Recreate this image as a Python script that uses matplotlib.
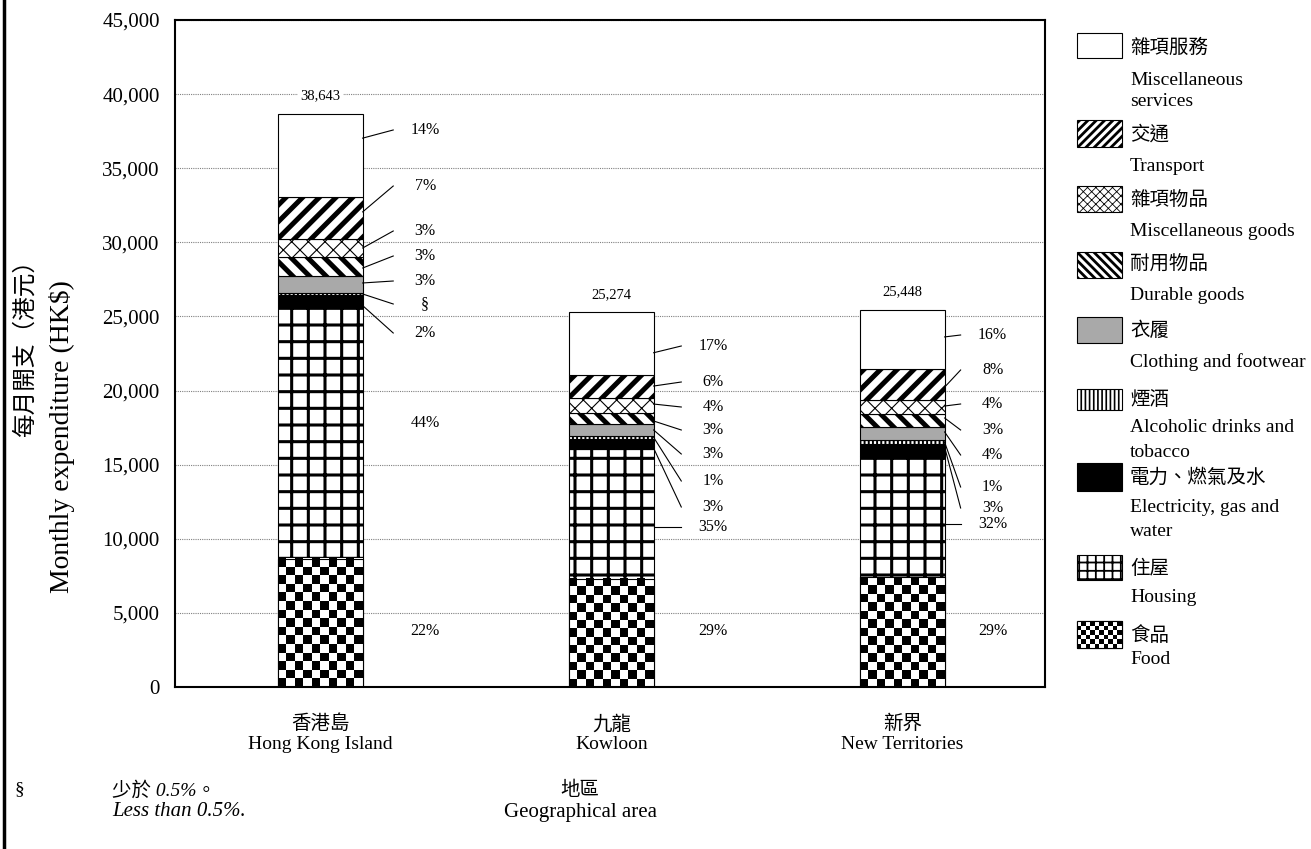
import matplotlib.pyplot as plt
import numpy as np
from matplotlib.patches import Rectangle

plt.rcParams['font.family'] = ['Liberation Serif', 'Noto Sans CJK TC']

areas_cn = ['香港島', '九龍', '新界']
areas_en = ['Hong Kong Island', 'Kowloon', 'New Territories']

# monthly household expenditure by item (HK$), one value per area
food = [8650, 7300, 7400]
housing = [17000, 8740, 8190]
electricity = [800, 700, 800]
alcohol = [130, 200, 250]
clothing = [1150, 800, 900]
durable = [1250, 760, 870]
misc_goods = [1250, 1000, 960]
transport = [2850, 1520, 2100]
misc_services = [5563, 4254, 3978]

# stacking order, bottom to top
series = [food, housing, electricity, alcohol, clothing, durable,
          misc_goods, transport, misc_services]
names_cn = ['食品', '住屋', '電力、燃氣及水', '煙酒', '衣履', '耐用物品',
            '雜項物品', '交通', '雜項服務']
names_en = [['Food'], ['Housing'], ['Electricity, gas and', 'water'],
            ['Alcoholic drinks and', 'tobacco'], ['Clothing and footwear'],
            ['Durable goods'], ['Miscellaneous goods'], ['Transport'],
            ['Miscellaneous', 'services']]

# fill styles: (facecolor, hatch in bars, hatch width, hatch in key, key hatch width)
styles = [
    ('white', None, 0, None, 0),          # checkerboard drawn separately
    ('white', '+', 2.2, '++', 1.3),
    ('black', None, 0, None, 0),
    ('white', '||||', 1.4, '||||', 1.2),
    ('#a9a9a9', None, 0, None, 0),
    ('white', '\\\\', 3.6, '\\\\\\\\', 2.0),
    ('white', 'xx', 0.8, 'xxxx', 0.6),
    ('white', '//', 3.6, '////', 2.0),
    ('white', None, 0, None, 0),
]

# where the percentage labels sit (HK$ height), bottom to top per area
label_y = [
    [3778, 17811, 23883, 25840, 27391, 29078, 30765, 33800, 37580],
    [3778, 10795, 12144, 13898, 15720, 17339, 18890, 20577, 23006],
    [3778, 10997, 12077, 13493, 15652, 17339, 19093, 21387, 23748],
]
# leader line start, as a fraction of segment height; None = no line, 'h' = level line
lead_frac = [
    [None, None, 0.1, 0.5, 0.59, 0.43, 0.51, 0.64, 0.71],
    [None, 'h', 0.1, 0.5, 0.5, 0.27, 0.59, 0.53, 0.36],
    [None, 'h', 0.75, 0.5, 0.63, 0.7, 0.57, 0.41, 0.54],
]
label_dx = [0.36, 0.35, 0.31]

W, H = 1311, 849
fig = plt.figure(figsize=(W / 100, H / 100), dpi=100)

# pixel-space overlay for key, titles and notes
ov = fig.add_axes([0, 0, 1, 1], zorder=0)
ov.set_xlim(0, W)
ov.set_ylim(H, 0)
ov.axis('off')

ax = fig.add_axes([175 / W, (H - 687) / H, 870 / W, 667 / H], zorder=1)
ax.set_xlim(-0.5, 2.49)
ax.set_ylim(0, 45000)


def checker(axis, x0, x1, y0, y1, cell_px, z):
    p0 = axis.transData.transform((x0, y0))
    p1 = axis.transData.transform((x1, y1))
    nc = max(1, int(round(abs(p1[0] - p0[0]) / cell_px)))
    nr = max(1, int(round(abs(p1[1] - p0[1]) / cell_px)))
    grid = np.add.outer(np.arange(nr), np.arange(nc)) % 2
    axis.imshow(grid, cmap='gray', vmin=0, vmax=1, extent=(x0, x1, y0, y1),
                origin='lower', interpolation='nearest', aspect='auto', zorder=z)


bar_w = 0.29
x = np.arange(3)
bottom = np.zeros(3)
bars = []
for k, vals in enumerate(series):
    fc, hatch, hlw, _, _ = styles[k]
    with plt.rc_context({'hatch.linewidth': max(hlw, 0.1)}):
        bc = ax.bar(x, vals, bar_w, bottom=bottom, color=fc, edgecolor='black',
                    linewidth=0.8, hatch=hatch, zorder=2)
    for p in bc:
        if hatch and hasattr(p, 'set_hatch_linewidth'):
            p.set_hatch_linewidth(hlw)
    if k == 0:
        for i in range(3):
            checker(ax, x[i] - bar_w / 2, x[i] + bar_w / 2, bottom[i],
                    bottom[i] + vals[i], 8.4, 2.1)
        ax.bar(x, vals, bar_w, bottom=bottom, fill=False, edgecolor='black',
               linewidth=0.8, zorder=2.2)
    bars.append(bottom.copy())
    bottom += np.array(vals)

totals = bottom

# percentage labels and leader lines
for i in range(3):
    for k, vals in enumerate(series):
        pct = vals[i] / totals[i] * 100
        txt = '§' if pct < 0.5 else f'{pct:.0f}%'
        lx = x[i] + label_dx[i]
        ly = label_y[i][k]
        ax.text(lx, ly, txt, ha='center', va='center', fontsize=11.5, zorder=5)
        f = lead_frac[i][k]
        if f is None:
            continue
        y0 = ly if f == 'h' else bars[k][i] + f * vals[i]
        ax.plot([x[i] + bar_w / 2, lx - 0.11], [y0, ly], color='black',
                lw=0.8, zorder=5)
    ax.annotate(f'{int(totals[i]):,}', (x[i], totals[i]), xytext=(0, 13),
                textcoords='offset points', ha='center', va='center',
                fontsize=10.5, zorder=5,
                bbox=dict(facecolor='white', edgecolor='none', pad=1.5))

ax.set_yticks(np.arange(0, 45001, 5000))
ax.set_yticklabels([f'{v:,}' for v in range(0, 45001, 5000)], fontsize=15)
ax.set_xticks(x)
ax.set_xticklabels([f'{c}\n{e}' for c, e in zip(areas_cn, areas_en)], fontsize=14)
ax.tick_params(axis='y', length=0, pad=11)
ax.tick_params(axis='x', length=0, pad=20)
ax.yaxis.grid(True, linestyle=(0, (1, 1)), color='#808080', linewidth=0.8)
ax.set_axisbelow(True)
for s in ax.spines.values():
    s.set_linewidth(1.5)
ax.set_xlim(-0.5, 2.49)
ax.set_ylim(0, 45000)

# key on the right, top entry is the last stacked series
key_rows = [  # swatch top, swatch height, chinese line y, english line ys
    (33, 25, 48, [80, 101]),
    (120, 27, 134, [166]),
    (186, 26, 200, [231]),
    (252, 26, 265, [296]),
    (317, 26, 331, [362]),
    (389, 21, 400, [427, 452]),
    (463, 28, 478, [508, 532]),
    (555, 25, 569, [597]),
    (621, 27, 636, [659]),
]
for r, k in enumerate(range(len(series) - 1, -1, -1)):
    top, hgt, ycn, yens = key_rows[r]
    fc, _, _, khatch, klw = styles[k]
    with plt.rc_context({'hatch.linewidth': max(klw, 0.1)}):
        rect = Rectangle((1077, top), 45, hgt, facecolor=fc, edgecolor='black',
                         linewidth=0.8, hatch=khatch)
    if khatch and hasattr(rect, 'set_hatch_linewidth'):
        rect.set_hatch_linewidth(klw)
    ov.add_patch(rect)
    if k == 0:
        checker(ov, 1077, 1122, top + hgt, top, 4.6, 1)
        ov.add_patch(Rectangle((1077, top), 45, hgt, fill=False,
                               edgecolor='black', linewidth=0.8, zorder=2))
    ov.text(1130, ycn, names_cn[k], fontsize=14, va='center', ha='left')
    for line, yy in zip(names_en[k], yens):
        ov.text(1130, yy, line, fontsize=14, va='center', ha='left')

# axis titles and footnote
ov.text(25, 342, '每月開支（港元）', rotation=90, fontsize=17,
        ha='center', va='center')
ov.text(62, 437, 'Monthly expenditure (HK$)', rotation=90, fontsize=20,
        ha='center', va='center')
ov.text(580, 790, '地區', fontsize=14, ha='center', va='center')
ov.text(580, 812, 'Geographical area', fontsize=15, ha='center', va='center')
ov.text(14, 790, '§', fontsize=14, ha='left', va='center')
ov.text(112, 790, '少於 0.5%。', fontsize=14, style='italic', ha='left', va='center')
ov.text(112, 812, 'Less than 0.5%.', fontsize=15, style='italic', ha='left', va='center')
ov.plot([4, 4], [0, H], color='black', lw=2.5, clip_on=False)
ov.set_xlim(0, W)
ov.set_ylim(H, 0)

fig.savefig('out.png', dpi=100)
